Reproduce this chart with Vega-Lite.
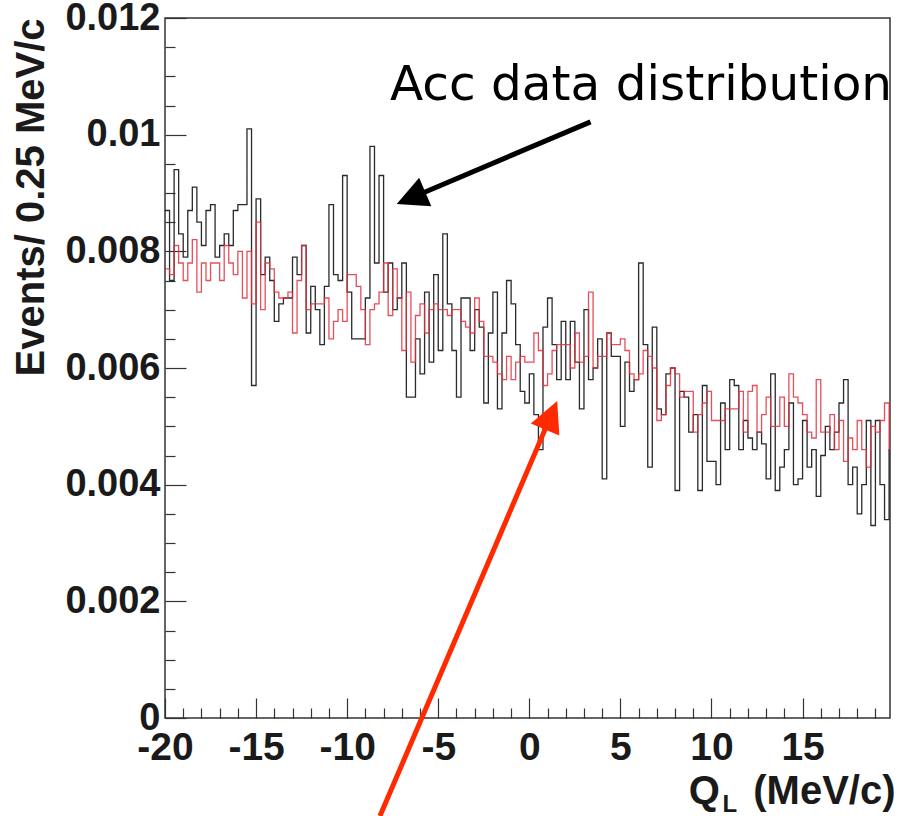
{
  "$schema": "https://vega.github.io/schema/vega-lite/v6.json",
  "width": 725,
  "height": 700,
  "autosize": "none",
  "padding": {"left": 165, "top": 18, "right": 22, "bottom": 98},
  "background": "white",
  "config": {"view": {"stroke": "#333", "strokeWidth": 1.5}, "font": "Liberation Sans"},
  "datasets": {
    "hist": [
      {"q": -20, "d": 0.0087, "m": 0.0077}, {"q": -19.75, "d": 0.0075, "m": 0.0076}, {"q": -19.5, "d": 0.0094, "m": 0.0081}, {"q": -19.25, "d": 0.0083, "m": 0.0078},
      {"q": -19, "d": 0.0079, "m": 0.0075}, {"q": -18.75, "d": 0.0087, "m": 0.0078}, {"q": -18.5, "d": 0.0091, "m": 0.0082}, {"q": -18.25, "d": 0.0085, "m": 0.0073},
      {"q": -18, "d": 0.0081, "m": 0.0078}, {"q": -17.75, "d": 0.0087, "m": 0.0075}, {"q": -17.5, "d": 0.0088, "m": 0.0078}, {"q": -17.25, "d": 0.0079, "m": 0.0078},
      {"q": -17, "d": 0.0081, "m": 0.0075}, {"q": -16.75, "d": 0.0083, "m": 0.0081}, {"q": -16.5, "d": 0.0081, "m": 0.0078}, {"q": -16.25, "d": 0.0087, "m": 0.0076},
      {"q": -16, "d": 0.0088, "m": 0.0080}, {"q": -15.75, "d": 0.0088, "m": 0.0072}, {"q": -15.5, "d": 0.0101, "m": 0.0080}, {"q": -15.25, "d": 0.0057, "m": 0.0071},
      {"q": -15, "d": 0.0089, "m": 0.0085}, {"q": -14.75, "d": 0.0076, "m": 0.0070}, {"q": -14.5, "d": 0.0079, "m": 0.0078}, {"q": -14.25, "d": 0.0075, "m": 0.0077},
      {"q": -14, "d": 0.0068, "m": 0.0073}, {"q": -13.75, "d": 0.0071, "m": 0.0072}, {"q": -13.5, "d": 0.0072, "m": 0.0072}, {"q": -13.25, "d": 0.0072, "m": 0.0073},
      {"q": -13, "d": 0.0079, "m": 0.0066}, {"q": -12.75, "d": 0.0076, "m": 0.0075}, {"q": -12.5, "d": 0.0081, "m": 0.0081}, {"q": -12.25, "d": 0.0066, "m": 0.0070},
      {"q": -12, "d": 0.0074, "m": 0.0071}, {"q": -11.75, "d": 0.0070, "m": 0.0071}, {"q": -11.5, "d": 0.0064, "m": 0.0071}, {"q": -11.25, "d": 0.0074, "m": 0.0072},
      {"q": -11, "d": 0.0088, "m": 0.0065}, {"q": -10.75, "d": 0.0076, "m": 0.0068}, {"q": -10.5, "d": 0.0075, "m": 0.0070}, {"q": -10.25, "d": 0.0093, "m": 0.0068},
      {"q": -10, "d": 0.0073, "m": 0.0076}, {"q": -9.75, "d": 0.0065, "m": 0.0076}, {"q": -9.5, "d": 0.0065, "m": 0.0074}, {"q": -9.25, "d": 0.0065, "m": 0.0070},
      {"q": -9, "d": 0.0072, "m": 0.0064}, {"q": -8.75, "d": 0.0098, "m": 0.0070}, {"q": -8.5, "d": 0.0078, "m": 0.0071}, {"q": -8.25, "d": 0.0093, "m": 0.0073},
      {"q": -8, "d": 0.0073, "m": 0.0078}, {"q": -7.75, "d": 0.0078, "m": 0.0069}, {"q": -7.5, "d": 0.0070, "m": 0.0077}, {"q": -7.25, "d": 0.0072, "m": 0.0072},
      {"q": -7, "d": 0.0078, "m": 0.0063}, {"q": -6.75, "d": 0.0055, "m": 0.0073}, {"q": -6.5, "d": 0.0055, "m": 0.0061}, {"q": -6.25, "d": 0.0065, "m": 0.0069},
      {"q": -6, "d": 0.0059, "m": 0.0071}, {"q": -5.75, "d": 0.0073, "m": 0.0066}, {"q": -5.5, "d": 0.0061, "m": 0.0070}, {"q": -5.25, "d": 0.0076, "m": 0.0071},
      {"q": -5, "d": 0.0063, "m": 0.0070}, {"q": -4.75, "d": 0.0083, "m": 0.0070}, {"q": -4.5, "d": 0.0071, "m": 0.0069}, {"q": -4.25, "d": 0.0063, "m": 0.0070},
      {"q": -4, "d": 0.0055, "m": 0.0070}, {"q": -3.75, "d": 0.0072, "m": 0.0068}, {"q": -3.5, "d": 0.0072, "m": 0.0067}, {"q": -3.25, "d": 0.0063, "m": 0.0066},
      {"q": -3, "d": 0.0070, "m": 0.0072}, {"q": -2.75, "d": 0.0067, "m": 0.0068}, {"q": -2.5, "d": 0.0054, "m": 0.0062}, {"q": -2.25, "d": 0.0066, "m": 0.0062},
      {"q": -2, "d": 0.0073, "m": 0.0061}, {"q": -1.75, "d": 0.0053, "m": 0.0059}, {"q": -1.5, "d": 0.0066, "m": 0.0058}, {"q": -1.25, "d": 0.0075, "m": 0.0062},
      {"q": -1, "d": 0.0071, "m": 0.0058}, {"q": -0.75, "d": 0.0064, "m": 0.0061}, {"q": -0.5, "d": 0.0056, "m": 0.0062}, {"q": -0.25, "d": 0.0054, "m": 0.0061},
      {"q": 0, "d": 0.0059, "m": 0.0061}, {"q": 0.25, "d": 0.0052, "m": 0.0066}, {"q": 0.5, "d": 0.0046, "m": 0.0063}, {"q": 0.75, "d": 0.0067, "m": 0.0057},
      {"q": 1, "d": 0.0072, "m": 0.0059}, {"q": 1.25, "d": 0.0064, "m": 0.0063}, {"q": 1.5, "d": 0.0058, "m": 0.0064}, {"q": 1.75, "d": 0.0068, "m": 0.0064},
      {"q": 2, "d": 0.0058, "m": 0.0064}, {"q": 2.25, "d": 0.0068, "m": 0.0060}, {"q": 2.5, "d": 0.0061, "m": 0.0066}, {"q": 2.75, "d": 0.0053, "m": 0.0061},
      {"q": 3, "d": 0.0070, "m": 0.0062}, {"q": 3.25, "d": 0.0058, "m": 0.0073}, {"q": 3.5, "d": 0.0060, "m": 0.0060}, {"q": 3.75, "d": 0.0065, "m": 0.0062},
      {"q": 4, "d": 0.0041, "m": 0.0062}, {"q": 4.25, "d": 0.0066, "m": 0.0066}, {"q": 4.5, "d": 0.0062, "m": 0.0064}, {"q": 4.75, "d": 0.0062, "m": 0.0064},
      {"q": 5, "d": 0.0050, "m": 0.0065}, {"q": 5.25, "d": 0.0061, "m": 0.0063}, {"q": 5.5, "d": 0.0056, "m": 0.0059}, {"q": 5.75, "d": 0.0058, "m": 0.0058},
      {"q": 6, "d": 0.0078, "m": 0.0059}, {"q": 6.25, "d": 0.0064, "m": 0.0063}, {"q": 6.5, "d": 0.0043, "m": 0.0062}, {"q": 6.75, "d": 0.0067, "m": 0.0060},
      {"q": 7, "d": 0.0053, "m": 0.0051}, {"q": 7.25, "d": 0.0052, "m": 0.0052}, {"q": 7.5, "d": 0.0059, "m": 0.0057}, {"q": 7.75, "d": 0.0060, "m": 0.0060},
      {"q": 8, "d": 0.0039, "m": 0.0059}, {"q": 8.25, "d": 0.0056, "m": 0.0055}, {"q": 8.5, "d": 0.0055, "m": 0.0056}, {"q": 8.75, "d": 0.0049, "m": 0.0056},
      {"q": 9, "d": 0.0052, "m": 0.0049}, {"q": 9.25, "d": 0.0039, "m": 0.0052}, {"q": 9.5, "d": 0.0057, "m": 0.0054}, {"q": 9.75, "d": 0.0044, "m": 0.0056},
      {"q": 10, "d": 0.0044, "m": 0.0051}, {"q": 10.25, "d": 0.0040, "m": 0.0051}, {"q": 10.5, "d": 0.0054, "m": 0.0051}, {"q": 10.75, "d": 0.0046, "m": 0.0053},
      {"q": 11, "d": 0.0058, "m": 0.0053}, {"q": 11.25, "d": 0.0057, "m": 0.0053}, {"q": 11.5, "d": 0.0046, "m": 0.0056}, {"q": 11.75, "d": 0.0051, "m": 0.0049},
      {"q": 12, "d": 0.0048, "m": 0.0056}, {"q": 12.25, "d": 0.0046, "m": 0.0057}, {"q": 12.5, "d": 0.0049, "m": 0.0049}, {"q": 12.75, "d": 0.0047, "m": 0.0052},
      {"q": 13, "d": 0.0041, "m": 0.0055}, {"q": 13.25, "d": 0.0059, "m": 0.0050}, {"q": 13.5, "d": 0.0039, "m": 0.0050}, {"q": 13.75, "d": 0.0043, "m": 0.0055},
      {"q": 14, "d": 0.0046, "m": 0.0050}, {"q": 14.25, "d": 0.0054, "m": 0.0059}, {"q": 14.5, "d": 0.0040, "m": 0.0055}, {"q": 14.75, "d": 0.0041, "m": 0.0054},
      {"q": 15, "d": 0.0051, "m": 0.0052}, {"q": 15.25, "d": 0.0043, "m": 0.0049}, {"q": 15.5, "d": 0.0046, "m": 0.0048}, {"q": 15.75, "d": 0.0038, "m": 0.0058},
      {"q": 16, "d": 0.0045, "m": 0.0049}, {"q": 16.25, "d": 0.0050, "m": 0.0049}, {"q": 16.5, "d": 0.0046, "m": 0.0052}, {"q": 16.75, "d": 0.0049, "m": 0.0046},
      {"q": 17, "d": 0.0054, "m": 0.0051}, {"q": 17.25, "d": 0.0058, "m": 0.0044}, {"q": 17.5, "d": 0.0040, "m": 0.0048}, {"q": 17.75, "d": 0.0043, "m": 0.0046},
      {"q": 18, "d": 0.0035, "m": 0.0051}, {"q": 18.25, "d": 0.0040, "m": 0.0046}, {"q": 18.5, "d": 0.0051, "m": 0.0043}, {"q": 18.75, "d": 0.0033, "m": 0.0050},
      {"q": 19, "d": 0.0051, "m": 0.0049}, {"q": 19.25, "d": 0.0040, "m": 0.0051}, {"q": 19.5, "d": 0.0034, "m": 0.0054}, {"q": 19.75, "d": 0.0046, "m": 0.0046},
      {"q": 20, "d": 0.0046, "m": 0.0046}
    ],
    "arrows": [
      {"kind": "acc", "x": 3.36, "y": 0.01022, "x2": -6.27, "y2": 0.008945},
      {"kind": "mc", "x": -8.2, "y": -0.00168, "x2": 1.10, "y2": 0.005119}
    ],
    "heads": [
      {"kind": "acc", "x": -7.28, "y": 0.008811},
      {"kind": "mc", "x": 1.53, "y": 0.005434}
    ],
    "notes": [
      {"x": -7.65, "y": 0.01059, "t": "Acc data distribution"}
    ],
    "subs": [
      {"x": 10.6, "y": -0.00161, "t": "L"}
    ]
  },
  "layer": [
    {
      "data": {"name": "hist"},
      "mark": {"type": "line", "interpolate": "step-after", "color": "#2a2a2a", "strokeWidth": 1.3, "clip": true},
      "encoding": {
        "x": {
          "field": "q", "type": "quantitative",
          "scale": {"domain": [-20, 19.8], "nice": false, "zero": false},
          "axis": {
            "values": [-20,-19,-18,-17,-16,-15,-14,-13,-12,-11,-10,-9,-8,-7,-6,-5,-4,-3,-2,-1,0,1,2,3,4,5,6,7,8,9,10,11,12,13,14,15,16,17,18,19],
            "tickCount": 200,
            "tickSize": {"condition": {"test": "datum.value % 5 === 0", "value": -20}, "value": -10},
            "tickColor": "#333", "tickWidth": 1.2,
            "domain": false, "grid": false,
            "labelExpr": "datum.value % 5 === 0 ? '' + datum.value : ''",
            "labelFont": "Liberation Sans", "labelFontWeight": "bold", "labelFontSize": 39, "labelColor": "#1a1a1a",
            "labelPadding": 30, "labelBaseline": "top", "labelAlign": "center",
            "labelOverlap": false, "labelFlush": false, "labelBound": false,
            "title": "Q\u00a0\u00a0\u00a0(MeV/c)",
            "titleFont": "Liberation Sans", "titleFontWeight": "bold", "titleFontSize": 40, "titleColor": "#1a1a1a",
            "titleAlign": "right", "titleBaseline": "alphabetic", "titleX": 730, "titleY": 85, "titleAngle": 0
          }
        },
        "y": {
          "field": "d", "type": "quantitative",
          "scale": {"domain": [0, 0.012], "nice": false, "zero": true},
          "axis": {
            "values": [0,0.0005,0.001,0.0015,0.002,0.0025,0.003,0.0035,0.004,0.0045,0.005,0.0055,0.006,0.0065,0.007,0.0075,0.008,0.0085,0.009,0.0095,0.01,0.0105,0.011,0.0115,0.012],
            "tickCount": 200,
            "tickSize": {"condition": {"test": "abs(datum.value*500 - round(datum.value*500)) < 0.001", "value": -21}, "value": -10},
            "tickColor": "#333", "tickWidth": 1.2,
            "domain": false, "grid": false,
            "labelExpr": "abs(datum.value*500 - round(datum.value*500)) < 0.001 ? format(datum.value, '.3~f') : ''",
            "labelFont": "Liberation Sans", "labelFontWeight": "bold", "labelFontSize": 38, "labelColor": "#1a1a1a",
            "labelPadding": 26, "labelAlign": "right", "labelBaseline": "middle",
            "labelOverlap": false, "labelFlush": false, "labelBound": false,
            "title": "Events/ 0.25 MeV/c",
            "titleFont": "Liberation Sans", "titleFontWeight": "bold", "titleFontSize": 40, "titleColor": "#1a1a1a",
            "titleAngle": -90, "titleAlign": "right", "titleBaseline": "middle", "titleX": -134, "titleY": 0
          }
        }
      }
    },
    {
      "data": {"name": "hist"},
      "mark": {"type": "line", "interpolate": "step-after", "color": "#e0303c", "strokeWidth": 1.3, "opacity": 0.85, "clip": true},
      "encoding": {
        "x": {"field": "q", "type": "quantitative", "title": "Q\u00a0\u00a0\u00a0(MeV/c)"},
        "y": {"field": "m", "type": "quantitative", "title": "Events/ 0.25 MeV/c"}
      }
    },
    {
      "data": {"name": "arrows"},
      "mark": {"type": "rule", "strokeWidth": 5, "clip": false},
      "encoding": {
        "x": {"field": "x", "type": "quantitative", "title": "Q\u00a0\u00a0\u00a0(MeV/c)"},
        "y": {"field": "y", "type": "quantitative", "title": "Events/ 0.25 MeV/c"},
        "x2": {"field": "x2"},
        "y2": {"field": "y2"},
        "color": {"field": "kind", "type": "nominal", "scale": {"domain": ["acc", "mc"], "range": ["#000000", "#ff2a00"]}, "legend": null}
      }
    },
    {
      "data": {"name": "heads"},
      "transform": [{"filter": "datum.kind === 'acc'"}],
      "mark": {"type": "point", "shape": "M0,0L-1,2L1,2Z", "size": 961, "filled": true, "opacity": 1, "color": "#000000", "angle": 247, "clip": false},
      "encoding": {
        "x": {"field": "x", "type": "quantitative", "title": "Q\u00a0\u00a0\u00a0(MeV/c)"},
        "y": {"field": "y", "type": "quantitative", "title": "Events/ 0.25 MeV/c"}
      }
    },
    {
      "data": {"name": "heads"},
      "transform": [{"filter": "datum.kind === 'mc'"}],
      "mark": {"type": "point", "shape": "M0,0L-1,2L1,2Z", "size": 961, "filled": true, "opacity": 1, "color": "#ff2a00", "angle": 23, "clip": false},
      "encoding": {
        "x": {"field": "x", "type": "quantitative", "title": "Q\u00a0\u00a0\u00a0(MeV/c)"},
        "y": {"field": "y", "type": "quantitative", "title": "Events/ 0.25 MeV/c"}
      }
    },
    {
      "data": {"name": "notes"},
      "mark": {"type": "text", "align": "left", "baseline": "alphabetic", "font": "DejaVu Sans", "fontSize": 48.5, "color": "#000000", "clip": false},
      "encoding": {
        "x": {"field": "x", "type": "quantitative", "title": "Q\u00a0\u00a0\u00a0(MeV/c)"},
        "y": {"field": "y", "type": "quantitative", "title": "Events/ 0.25 MeV/c"},
        "text": {"field": "t"}
      }
    },
    {
      "data": {"name": "subs"},
      "mark": {"type": "text", "align": "left", "baseline": "alphabetic", "font": "Liberation Sans", "fontWeight": "bold", "fontSize": 24, "color": "#1a1a1a", "clip": false},
      "encoding": {
        "x": {"field": "x", "type": "quantitative", "title": "Q\u00a0\u00a0\u00a0(MeV/c)"},
        "y": {"field": "y", "type": "quantitative", "title": "Events/ 0.25 MeV/c"},
        "text": {"field": "t"}
      }
    }
  ]
}
